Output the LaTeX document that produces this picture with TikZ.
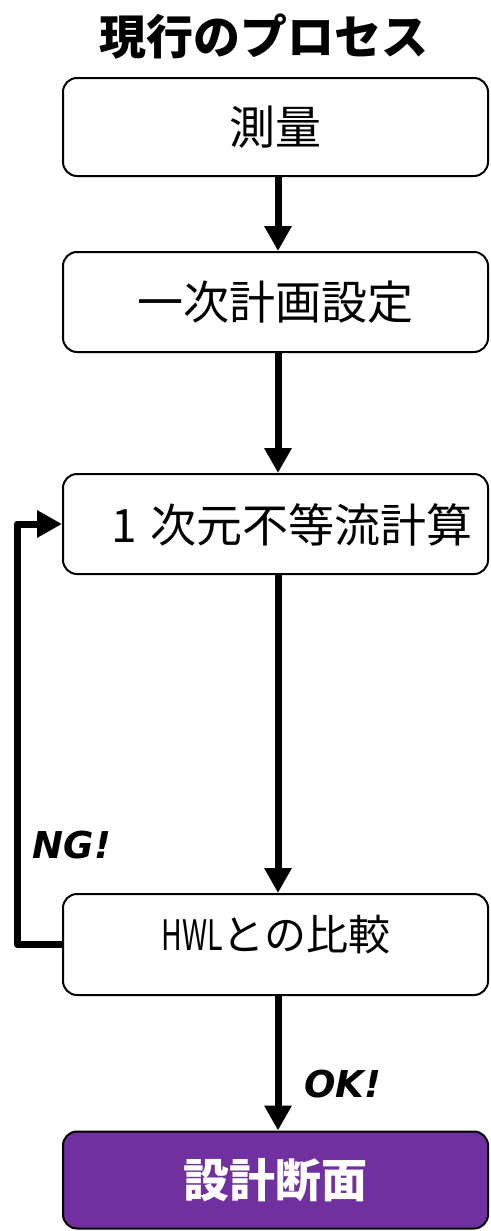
\documentclass[tikz,border=0pt]{standalone}
\usepackage{fontspec}
\usepackage{graphicx}
\setmainfont{Noto Sans CJK JP}
\newfontfamily\labelfont{DejaVu Sans}
\usetikzlibrary{arrows.meta}
\definecolor{flowpurple}{HTML}{7030A0}
\begin{document}
\begin{tikzpicture}[x=1pt,y=-1pt,
  box/.style={draw=black, line width=2pt, rounded corners=14pt, minimum width=425pt,
              inner sep=0pt, fill=white, font=\fontsize{46}{52}\selectfont},
  boxtext/.style={inner sep=0pt, font=\fontsize{46}{52}\selectfont},
  flow/.style={line width=7pt, -{Triangle[width=26pt,length=25pt]}},
  loopline/.style={line width=7pt, line join=round, -{Triangle[width=26pt,length=25pt]}},
  judge/.style={font=\labelfont\bfseries\itshape\fontsize{37}{40}\selectfont, inner sep=0pt},
  titlestyle/.style={font=\bfseries\fontsize{47}{52}\selectfont, inner sep=0pt}]
\useasboundingbox (0,0) rectangle (490,1231);
\node[titlestyle] (title) at (264,37) {現行のプロセス};
\coordinate (ax) at (278,0);
\coordinate (lx) at (17,0);
\node[box, minimum height=98pt] (b1) at (275.5,127) {測量};
\node[box, minimum height=100pt] (b2) at (275.5,302) {一次計画設定};
\node[box, minimum height=100pt] (b3) at (275.5,524) {};
\node[boxtext] (t3) at (292,525) {1\hspace{0.3em}次元不等流計算};
\node[box, minimum height=101pt] (b4) at (275.5,944.5) {};
\node[boxtext, font=\fontsize{42}{48}\selectfont] (t4) at (276,935) {\scalebox{0.68}[1]{HWL}との比較};
\node[box, fill=flowpurple, text=white, minimum height=97pt,
      font=\bfseries\fontsize{46}{52}\selectfont] (b5) at (275.5,1180) {設計断面};
\draw[flow] (b1.south -| ax) -- (b2.north -| ax);
\draw[flow] (b2.south -| ax) -- (b3.north -| ax);
\draw[flow] (b3.south -| ax) -- (b4.north -| ax);
\draw[flow] (b4.south -| ax) -- (b5.north -| ax);
\draw[loopline] (b4.west) -| (lx |- b3.west) -- (b3.west);
\node[judge] (ng) at (72,845) {NG!};
\node[judge] (ok) at (343,1084) {OK!};
\end{tikzpicture}
\end{document}
